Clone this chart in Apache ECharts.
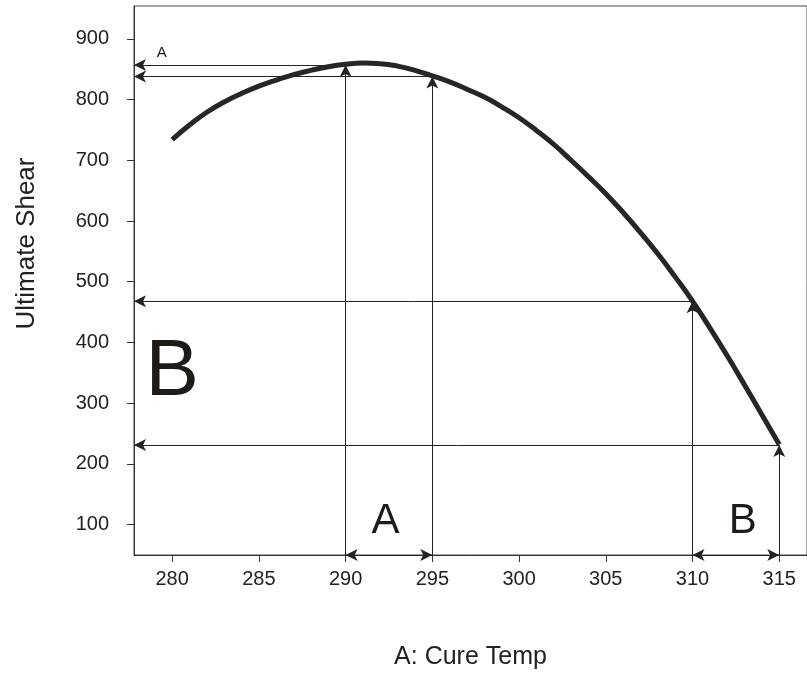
<!DOCTYPE html>
<html>
<head>
<meta charset="utf-8">
<script src="https://cdn.jsdelivr.net/npm/echarts@6/dist/echarts.min.js"></script>
<style>html,body{margin:0;padding:0;background:#fff;}#c{width:807px;height:675px;}</style>
</head>
<body>
<div id="c"></div>
<script>
// ---- data ----
const cureTemp = [280,281,282,283,284,285,286,287,288,289,290,291,292,293,294,295,296,297,298,299,300,301,302,303,304,305,306,307,308,309,310,311,312,313,314,315];
const ultimateShear = [734,758,779,796,810,822,832,841,848,854,858,860,859,855,848,839,829,817,804,788,770,749,726,700,673,645,614,581,546,508,468,424,378,330,281,232];
const xTicks = [280,285,290,295,300,305,310,315];
const yTicks = [100,200,300,400,500,600,700,800,900];
const xRange = [277.8, 316.6];
const yRange = [50, 954];
// guide points: [temp, shear]
const guidePoints = [[290,857],[295,838],[310,468],[315,231]];
// ranges drawn along the x axis
const rangeA = [290,295];
const rangeB = [310,315];
// annotation texts: [label, temp, shear, fontSize]
const annotations = [['A',279.4,877,15],['B',280,350,80],['A',292.3,105,42],['B',312.9,105,42]];

const FONT = '"Liberation Sans", Arial, sans-serif';
const lineColor = '#333';

const guideLines = [];
guidePoints.forEach(p => {
  guideLines.push([{coord:[p[0], yRange[0]]},{coord:[p[0], p[1]]}]);
  guideLines.push([{coord:[p[0], p[1]]},{coord:[xRange[0], p[1]]}]);
});
[rangeA, rangeB].forEach(r => {
  guideLines.push([{coord:[r[0], yRange[0]], symbol:'arrow'},{coord:[r[1], yRange[0]]}]);
});

const chart = echarts.init(document.getElementById('c'), null, {renderer:'canvas'});
chart.setOption({
  animation:false,
  backgroundColor:'#fff',
  grid:{left:134, top:6, right:-1, bottom:119, show:true, borderColor:'#444', borderWidth:1, backgroundColor:'transparent'},
  xAxis:{
    type:'value', min:xRange[0], max:xRange[1],
    name:'A: Cure Temp', nameLocation:'middle', nameGap:90,
    nameTextStyle:{fontFamily:FONT, fontSize:25, color:'#222'},
    axisLine:{show:true, lineStyle:{color:lineColor, width:1}},
    axisTick:{show:true, inside:false, length:7, customValues:xTicks, lineStyle:{color:lineColor}},
    axisLabel:{customValues:xTicks, fontFamily:FONT, fontSize:20, color:'#222', margin:14},
    splitLine:{show:false}
  },
  yAxis:{
    type:'value', min:yRange[0], max:yRange[1],
    name:'Ultimate Shear', nameLocation:'middle', nameGap:94, nameRotate:90,
    nameTextStyle:{fontFamily:FONT, fontSize:26, color:'#222', padding:[0,0,0,74]},
    axisLine:{show:true, lineStyle:{color:lineColor, width:1}},
    axisTick:{show:true, inside:false, length:7, customValues:yTicks, lineStyle:{color:lineColor}},
    axisLabel:{customValues:yTicks, fontFamily:FONT, fontSize:20, color:'#222', margin:25},
    splitLine:{show:false}
  },
  series:[
    {
      type:'line',
      data:cureTemp.map((t,i)=>[t, ultimateShear[i]]),
      smooth:0.5, symbol:'none',
      lineStyle:{color:'#262626', width:5},
      z:5,
      markLine:{
        silent:true,
        symbol:['none','arrow'],
        symbolSize:[9,12],
        label:{show:false},
        lineStyle:{color:'#222', width:1, type:'solid'},
        itemStyle:{color:'#111'},
        emphasis:{disabled:true},
        data:guideLines
      }
    },
    {
      type:'scatter',
      symbolSize:0,
      silent:true,
      itemStyle:{opacity:1},
      data:annotations.map(a=>({
        value:[a[1], a[2]],
        label:{show:true, position:'inside', formatter:a[0], fontFamily:FONT, fontSize:a[3], color:'#1e1a17', opacity:1}
      }))
    }
  ]
});
</script>
</body>
</html>
